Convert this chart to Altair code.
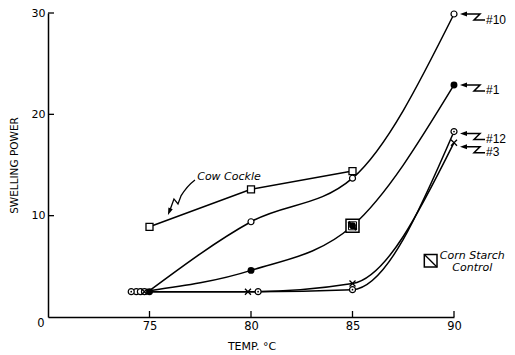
import altair as alt
import pandas as pd

FONT = "DejaVu Sans"
LABEL_FONT = "Liberation Sans"

# ---- values ----
temps = [75, 80, 85, 90]
sp_10 = [2.6, 9.4, 13.7, 29.9]
sp_1 = [2.6, 4.6, 9.0, 22.9]
sp_12 = [2.5, 2.5, 2.7, 18.3]
sp_3 = [2.5, 2.5, 3.3, 17.2]

cow_temps = [75, 80, 85]
cow_sp = [8.9, 12.6, 14.4]

control_temp = [85]
control_sp = [9.0]

# marker positions as drawn (coincident markers are staggered in the original)
m10_t = [74.35, 74.55, 74.75, 80, 85, 90]
m10_v = [2.5, 2.5, 2.5, 9.4, 13.7, 29.9]
m1_t = [75.0, 80, 85, 90]
m1_v = [2.5, 4.6, 9.0, 22.9]
m12_t = [74.1, 80.35, 85, 90]
m12_v = [2.5, 2.5, 2.7, 18.3]
m3_t = [74.75, 79.85, 85, 90]
m3_v = [2.5, 2.5, 3.3, 17.2]

series_labels = ["#10", "#1", "#12", "#3"]
label_anchor_t = [90, 90, 90, 90]
label_anchor_v = [29.9, 22.9, 18.1, 16.8]

x_ticks = [75, 80, 85, 90]
y_ticks = [10, 20, 30]

# annotation anchors (data units)
cow_text_t, cow_text_v = [77.35], [13.8]
cow_arrow_t, cow_arrow_v = [75.91], [10.07]
legend_sq_t, legend_sq_v = [88.85], [5.55]
legend_text_t = [90.9, 90.9]
legend_text_v = [6.05, 4.85]
legend_text = ["Corn Starch", "Control"]

W, H = 406, 304

X = alt.X("t:Q", scale=alt.Scale(domain=[70, 90], nice=False, zero=False),
          axis=alt.Axis(values=x_ticks, title="TEMP. °C", ticks=False, tickSize=0,
                        grid=False, domainColor="black", domainWidth=1.5,
                        labelFont=FONT, labelFontSize=11.5, labelColor="black",
                        labelPadding=3, labelFlush=False,
                        titleFont=FONT, titleFontSize=11, titleFontWeight="normal",
                        titleColor="black", titleX=203.5, titleY=29,
                        titleAlign="center", titleBaseline="middle"))
Y = alt.Y("v:Q", scale=alt.Scale(domain=[0, 30], nice=False),
          axis=alt.Axis(values=y_ticks, title="SWELLING POWER", ticks=False, tickSize=0,
                        grid=False, domainColor="black", domainWidth=1.5,
                        labelFont=FONT, labelFontSize=11, labelColor="black",
                        labelPadding=3, labelFlush=False,
                        titleFont=FONT, titleFontSize=10.5, titleFontWeight="normal",
                        titleColor="black", titleX=-34, titleY=152, titleAngle=270,
                        titleAlign="center", titleBaseline="middle"))


def df(t, v, **extra):
    d = {"t": t, "v": v}
    d.update(extra)
    return pd.DataFrame(d)


def pts(t, v, **kw):
    return alt.Chart(df(t, v)).mark_point(opacity=1, **kw).encode(x=X, y=Y)


lines_df = pd.concat([
    df(temps, sp_10, s=["10"] * 4),
    df(temps, sp_1, s=["1"] * 4),
    df(temps, sp_12, s=["12"] * 4),
    df(temps, sp_3, s=["3"] * 4),
])

curves = alt.Chart(lines_df).mark_line(interpolate="monotone", color="black",
                                       strokeWidth=1.5).encode(x=X, y=Y, detail="s:N")
cow_line = alt.Chart(df(cow_temps, cow_sp)).mark_line(color="black", strokeWidth=1.5).encode(x=X, y=Y)

# tick marks drawn inside the axes
xt = alt.Chart(pd.DataFrame({"t": x_ticks})).mark_rule(color="black", strokeWidth=1.3).encode(
    x=X, y=alt.value(H), y2=alt.value(H - 6))
yt = alt.Chart(pd.DataFrame({"v": y_ticks})).mark_rule(color="black", strokeWidth=1.3).encode(
    y=Y, x=alt.value(0), x2=alt.value(6))

WHITE = dict(filled=True, fill="white", stroke="black")

sq = pts(cow_temps, cow_sp, shape="square", size=49, strokeWidth=1.3, **WHITE)
o10 = pts(m10_t, m10_v, shape="circle", size=36, strokeWidth=1.2, **WHITE)
o12 = pts(m12_t, m12_v, shape="circle", size=36, strokeWidth=1.2, **WHITE)
o12dot = pts(m12_t, m12_v, shape="circle", size=3, filled=True, color="black")
x3 = pts(m3_t, m3_v, shape="M-3,-3L3,3M-3,3L3,-3", size=4, filled=False,
         stroke="black", strokeWidth=1.3)

ctrl_sq = pts(control_temp, control_sp, shape="square", size=169, strokeWidth=1.5, **WHITE)
ctrl_inner = pts(control_temp, control_sp, shape="square", size=64, filled=False,
                 stroke="black", strokeWidth=1)
f1 = pts(m1_t, m1_v, shape="circle", size=48, filled=True, color="black")
ctrl_diag = pts(control_temp, control_sp, shape="M-4,-4L4,4", size=4, filled=False,
                stroke="black", strokeWidth=2.5)

# right-hand series labels with zig-zag arrows
lab_df = pd.DataFrame({"t": label_anchor_t, "v": label_anchor_v, "lab": series_labels})
arrow_head = alt.Chart(lab_df).mark_point(shape="M6,0L13,-2.5L13,2.5Z", size=4, filled=True,
                                          color="black", opacity=1).encode(x=X, y=Y)
arrow_body = alt.Chart(lab_df).mark_point(shape="M12,0L26,0L20,6L31,6", size=4,
                                          filled=False, stroke="black", strokeWidth=1.5,
                                          opacity=1).encode(x=X, y=Y)
arrow_text = alt.Chart(lab_df).mark_text(font=LABEL_FONT, fontSize=12, align="left",
                                         baseline="middle", dx=32, dy=5.5,
                                         color="black").encode(x=X, y=Y, text="lab:N")

# Cow Cockle annotation
cow_text = alt.Chart(df(cow_text_t, cow_text_v, lab=["Cow Cockle"])).mark_text(
    font=FONT, fontSize=11, fontStyle="italic", align="left", baseline="middle",
    color="black").encode(x=X, y=Y, text="lab:N")
bolt = pts(cow_arrow_t, cow_arrow_v, shape="M27,-35Q19,-29 13,-19L10,-11L6,-16L2.2,-5.5",
           size=4, filled=False, stroke="black", strokeWidth=1.3)
bolt_head = pts(cow_arrow_t, cow_arrow_v, shape="M0,0L0.4,-7.5L4.8,-5.8Z", size=4,
                filled=True, color="black")

# Corn Starch Control key
key_sq = pts(legend_sq_t, legend_sq_v, shape="square", size=161, strokeWidth=1.5, **WHITE)
key_diag = pts(legend_sq_t, legend_sq_v, shape="M-6.3,-6.3L6.3,6.3", size=4, filled=False,
               stroke="black", strokeWidth=1.3)
key_text = alt.Chart(df(legend_text_t, legend_text_v, lab=legend_text)).mark_text(
    font=FONT, fontSize=11, fontStyle="italic", align="center", baseline="middle",
    color="black").encode(x=X, y=Y, text="lab:N")

# shared origin label
origin = alt.Chart(df([70], [0], lab=["0"])).mark_text(
    font=FONT, fontSize=11.5, align="center", baseline="middle", dx=-7, dy=7,
    color="black").encode(x=X, y=Y, text="lab:N")

chart = alt.layer(
    curves, cow_line, xt, yt,
    sq, o10, o12, o12dot, x3,
    ctrl_sq, ctrl_inner, f1, ctrl_diag,
    arrow_head, arrow_body, arrow_text,
    cow_text, bolt, bolt_head,
    key_sq, key_diag, key_text, origin,
).properties(
    width=W, height=H,
    autosize=alt.AutoSizeParams(type="none"),
    padding={"left": 40, "top": 5, "right": 53, "bottom": 35},
    background="white",
).configure_view(strokeWidth=0)

chart.save("out.html", embed_options={"renderer": "svg", "actions": False})
